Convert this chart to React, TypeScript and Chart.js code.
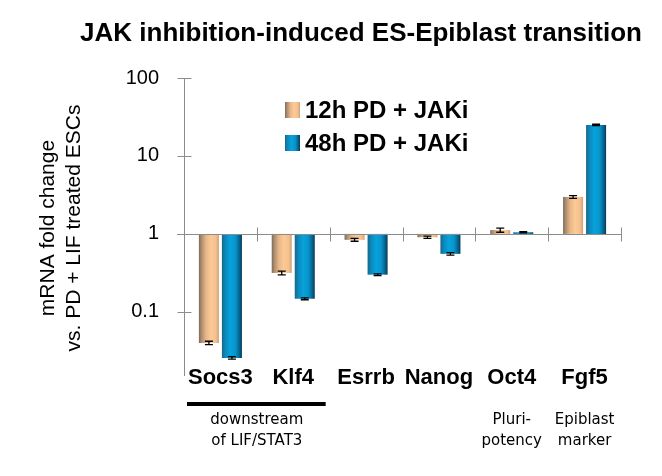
import React, { useEffect, useRef } from 'react';
import { Chart, registerables } from 'chart.js';

Chart.register(...registerables);

const genes = ['Socs3', 'Klf4', 'Esrrb', 'Nanog', 'Oct4', 'Fgf5'];
const seriesLabels = ['12h PD + JAKi', '48h PD + JAKi'];
const values12h = [0.04, 0.316, 0.84, 0.906, 1.12, 2.98];
const values48h = [0.0257, 0.147, 0.3, 0.555, 1.05, 25.0];
const errors12h = [0.002, 0.018, 0.035, 0.03, 0.07, 0.12];
const errors48h = [0.001, 0.004, 0.008, 0.02, 0.02, 0.5];
const yTickValues = [0.1, 1, 10, 100];
const baselineValue = 1;
const titleText = 'JAK inhibition-induced ES-Epiblast transition';
const yTitleLines = ['mRNA fold change', 'vs. PD + LIF treated ESCs'];
const groupNotes = [
  { from: 0, to: 1, lines: ['downstream', 'of LIF/STAT3'], underline: true },
  { from: 4, to: 4, lines: ['Pluri-', 'potency'], underline: false },
  { from: 5, to: 5, lines: ['Epiblast', 'marker'], underline: false },
];

const tanStops: [number, string][] = [
  [0, '#7a6a5c'], [0.12, '#a98b6c'], [0.35, '#e6b688'], [0.6, '#fdca96'], [0.85, '#f4c08e'], [1, '#c9a27c'],
];
const blueStops: [number, string][] = [
  [0, '#1e6384'], [0.15, '#0a86ba'], [0.42, '#08a2dc'], [0.68, '#0795cb'], [0.88, '#06618c'], [1, '#063a55'],
];
const stopsList = [tanStops, blueStops];

const CAT_PCT = 0.632;
const BAR_PCT = 0.87;
const FONT = '"Liberation Sans", Arial, sans-serif';

function makeGradient(ctx: CanvasRenderingContext2D, x0: number, x1: number, stops: [number, string][]) {
  const g = ctx.createLinearGradient(x0, 0, x1, 0);
  stops.forEach(([o, c]) => g.addColorStop(o, c));
  return g;
}

function barExtent(chart: any, dataIndex: number, datasetIndex: number) {
  const xs = chart.scales.x;
  const center = xs.getPixelForValue(dataIndex);
  const cw = xs.width / genes.length;
  const slot = (cw * CAT_PCT) / 2;
  const left = center - slot + datasetIndex * slot + (slot * (1 - BAR_PCT)) / 2;
  return [left, left + slot * BAR_PCT];
}

const decorPlugin = {
  id: 'decor',
  afterDatasetsDraw(chart: any) {
    const ctx = chart.ctx;
    const xs = chart.scales.x;
    const ys = chart.scales.y;
    const area = chart.chartArea;
    const errs = [errors12h, errors48h];
    const vals = [values12h, values48h];
    ctx.save();
    ctx.strokeStyle = '#000';
    ctx.lineWidth = 1.3;
    chart.data.datasets.forEach((_: any, di: number) => {
      const meta = chart.getDatasetMeta(di);
      meta.data.forEach((el: any, i: number) => {
        const v = vals[di][i];
        const e = errs[di][i];
        const yTop = ys.getPixelForValue(v + e);
        const yBot = ys.getPixelForValue(v - e);
        const x = el.x;
        ctx.beginPath();
        ctx.moveTo(x, yTop);
        ctx.lineTo(x, yBot);
        ctx.moveTo(x - 4, yTop);
        ctx.lineTo(x + 4, yTop);
        ctx.moveTo(x - 4, yBot);
        ctx.lineTo(x + 4, yBot);
        ctx.stroke();
      });
    });
    const yb = Math.round(ys.getPixelForValue(baselineValue)) + 0.5;
    ctx.strokeStyle = '#8c8c8c';
    ctx.lineWidth = 1;
    ctx.beginPath();
    ctx.moveTo(area.left - 7, yb);
    ctx.lineTo(area.right, yb);
    for (let i = 1; i <= genes.length; i++) {
      const bx = Math.round(xs.getPixelForValue(i - 0.5)) + 0.5;
      ctx.moveTo(bx, yb - 7);
      ctx.lineTo(bx, yb + 7);
    }
    const ax = Math.round(area.left) + 0.5;
    yTickValues.forEach((v) => {
      const ty = Math.round(ys.getPixelForValue(v)) + 0.5;
      ctx.moveTo(ax - 7, ty);
      ctx.lineTo(ax + 7, ty);
    });
    ctx.stroke();
    ctx.restore();
  },
  afterDraw(chart: any) {
    const ctx = chart.ctx;
    const xs = chart.scales.x;
    ctx.save();
    ctx.fillStyle = '#000';
    ctx.textAlign = 'center';
    ctx.textBaseline = 'middle';
    ctx.font = `bold 26px ${FONT}`;
    ctx.fillText(titleText, 361, 34);
    // category labels
    ctx.font = `bold 22px ${FONT}`;
    genes.forEach((g, i) => ctx.fillText(g, xs.getPixelForValue(i), 378));
    ctx.font = `21px ${FONT}`;
    ctx.save();
    ctx.translate(0, 228);
    ctx.rotate(-Math.PI / 2);
    ctx.fillText(yTitleLines[0], 0, 48);
    ctx.fillText(yTitleLines[1], 0, 74);
    ctx.restore();
    ctx.textAlign = 'left';
    ctx.font = `bold 24px ${FONT}`;
    seriesLabels.forEach((lab, i) => {
      const cy = 110 + i * 33;
      ctx.fillStyle = makeGradient(ctx, 285, 300, stopsList[i]);
      ctx.fillRect(285, cy - 8, 15, 16);
      ctx.fillStyle = '#000';
      ctx.fillText(lab, 305, cy + 1);
    });
    ctx.textAlign = 'center';
    ctx.font = `15px "DejaVu Sans", sans-serif`;
    groupNotes.forEach((g) => {
      const x0 = xs.getPixelForValue(g.from - 0.5);
      const x1 = xs.getPixelForValue(g.to + 0.5);
      const cx = (x0 + x1) / 2;
      if (g.underline) {
        ctx.fillStyle = '#000';
        ctx.fillRect(x0 + 3, 402, x1 - x0 - 7, 4);
      }
      ctx.fillStyle = '#000';
      g.lines.forEach((ln, k) => ctx.fillText(ln, cx, 420 + k * 21));
    });
    ctx.restore();
  },
};

export default function App() {
  const ref = useRef<HTMLCanvasElement | null>(null);
  useEffect(() => {
    if (!ref.current) return;
    const mk = (vals: number[], di: number) => ({
      label: seriesLabels[di],
      data: vals.map((v) => [baselineValue, v]),
      backgroundColor: (c: any) => {
        const chart = c.chart;
        if (!chart.chartArea || !chart.scales.x) return stopsList[di][3][1];
        const [l, r] = barExtent(chart, c.dataIndex, di);
        return makeGradient(chart.ctx, l, r, stopsList[di]);
      },
      borderWidth: 0,
      categoryPercentage: CAT_PCT,
      barPercentage: BAR_PCT,
    });
    const chart = new Chart(ref.current, {
      type: 'bar',
      data: {
        labels: genes,
        datasets: [mk(values12h, 0), mk(values48h, 1)],
      },
      options: {
        animation: false,
        responsive: true,
        maintainAspectRatio: false,
        layout: { padding: { left: 0, top: 78, right: 41, bottom: 0 } },
        plugins: { legend: { display: false }, tooltip: { enabled: false }, title: { display: false } },
        scales: {
          x: {
            grid: { display: false },
            border: { display: false },
            ticks: { display: false },
            afterFit: (s: any) => { s.height = 101; },
          },
          y: {
            type: 'logarithmic',
            min: 0.0155,
            max: 100,
            grid: { display: false },
            border: { display: true, color: '#8c8c8c', width: 1 },
            afterBuildTicks: (s: any) => { s.ticks = yTickValues.map((v) => ({ value: v })); },
            ticks: {
              color: '#000',
              font: { family: FONT, size: 20 },
              padding: 17,
              callback: (v: any) => String(v),
            },
            afterFit: (s: any) => { s.width = 184; },
          },
        },
      },
      plugins: [decorPlugin],
    } as any);
    chart.update('none');
    return () => chart.destroy();
  }, []);
  return (
    <div style={{ position: 'absolute', left: 0, top: 0, width: 662, height: 476, background: '#fff' }}>
      <canvas ref={ref} />
    </div>
  );
}
